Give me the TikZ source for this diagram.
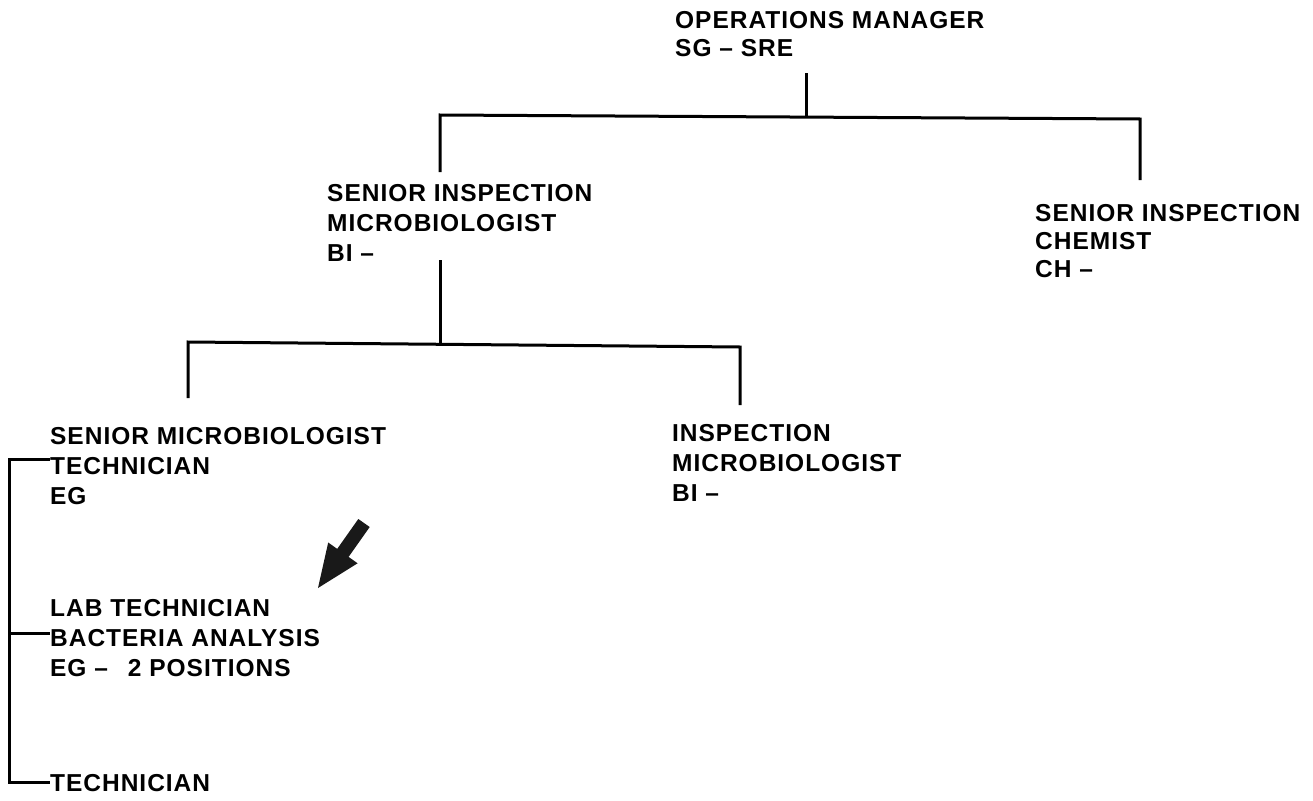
\documentclass[tikz,border=0pt]{standalone}
\usepackage{fontspec}
\newfontfamily\orgfont{Liberation Sans}[LetterSpace=4]
\begin{document}
\begin{tikzpicture}[x=1pt,y=-1pt,
  post/.style={anchor=north west, inner sep=0pt, align=left,
    font=\orgfont\bfseries\fontsize{24.5}{30}\selectfont},
  tight/.style={font=\orgfont\bfseries\fontsize{24.5}{28}\selectfont},
  conn/.style={line width=3pt, line cap=butt, line join=miter}]
\useasboundingbox[fill=white] (0,0) rectangle (1313,800);

% posts
\node[post,tight] (om)  at (675,11.5)  {OPERATIONS MANAGER\\SG – SRE};
\node[post]       (sim) at (327,184.5) {SENIOR INSPECTION\\MICROBIOLOGIST\\BI –};
\node[post,tight] (sic) at (1035,204.5) {SENIOR INSPECTION\\CHEMIST\\CH –};
\node[post]       (smt) at (50,427.5)  {SENIOR MICROBIOLOGIST\\TECHNICIAN\\EG};
\node[post]       (im)  at (672,424.5) {INSPECTION\\MICROBIOLOGIST\\BI –};
\node[post]       (lab) at (50,599.5)  {LAB TECHNICIAN\\BACTERIA ANALYSIS\\EG –\hspace{20pt}2 POSITIONS};
\node[post]       (tech) at (50,774.5) {TECHNICIAN};

% connector end points
\coordinate (omdrop) at (806,73);
\coordinate (j1) at (806,116);
\coordinate (b1l) at (440,115);
\coordinate (b1r) at (1140,119);
\coordinate (simin) at (440,172);
\coordinate (sicin) at (1140,180);
\coordinate (simout) at (440,260);
\coordinate (j2) at (440,343);
\coordinate (b2l) at (188,342);
\coordinate (b2r) at (740,347);
\coordinate (smtin) at (188,398);
\coordinate (imin) at (740,405);
\coordinate (rail) at (9,459);

% operations manager to the two senior inspectors
\draw[conn] (omdrop) -- (j1);
\draw[conn] (simin) -- (b1l) -- (b1r) -- (sicin);

% senior inspection microbiologist to its two reports
\draw[conn] (simout) -- (j2);
\draw[conn] (smtin) -- (b2l) -- (b2r) -- (imin);

% technician bracket on the left
\draw[conn] (smt.west |- 0,459) -- (rail) -- (rail |- 0,782) -- (tech.west |- 0,782);
\draw[conn] (rail |- 0,633) -- (lab.west |- 0,633);

% block arrow pointing at the lab technician
\fill[black!90] (369.7,527.0) -- (358.3,519.0) -- (337.2,548.9) -- (328.2,542.5)
  -- (318,588) -- (357.6,563.3) -- (348.6,556.9) -- cycle;
\end{tikzpicture}
\end{document}
